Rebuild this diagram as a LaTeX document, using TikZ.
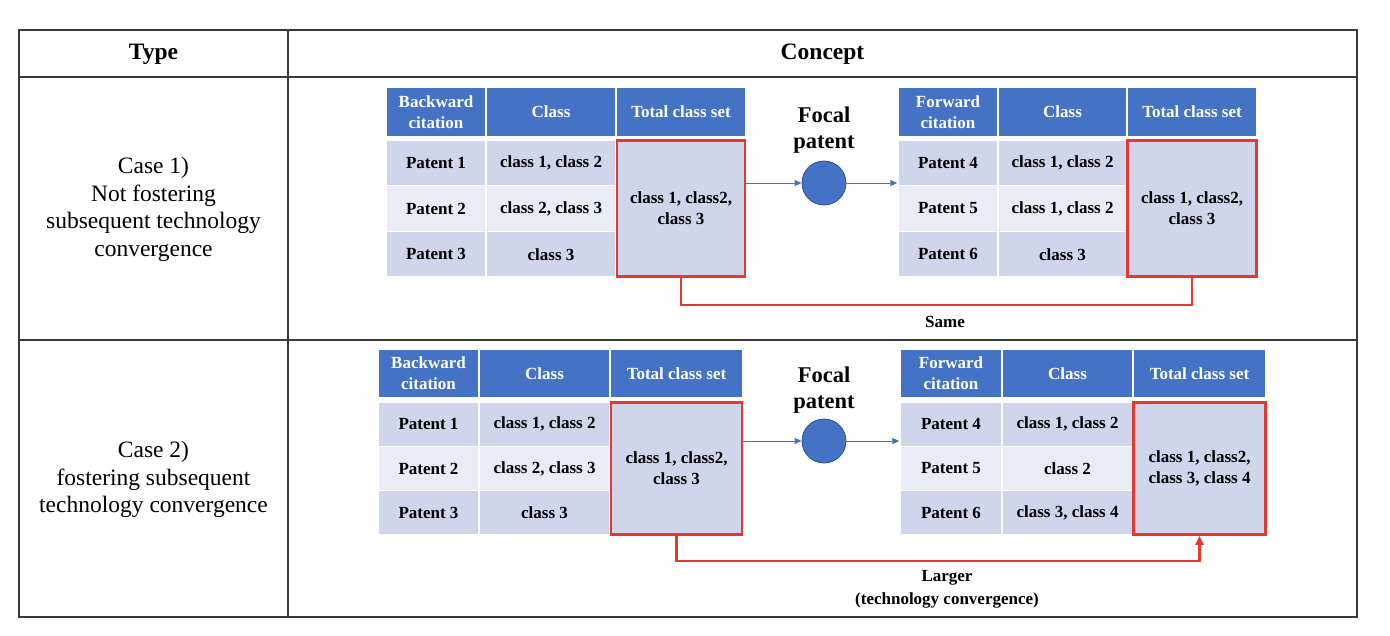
\documentclass[tikz,border=0pt]{standalone}
\usepackage{fontspec}
\setmainfont{Liberation Serif}
\usetikzlibrary{arrows.meta}
\definecolor{hblue}{HTML}{4472C4}
\definecolor{cdark}{HTML}{CFD5EA}
\definecolor{clight}{HTML}{E9EBF5}
\definecolor{redc}{RGB}{229,57,45}
\definecolor{circb}{HTML}{2F528F}
\definecolor{gridc}{HTML}{3A3A3A}
\tikzset{
  cellbase/.style={draw=white, line width=1.5pt, inner sep=0pt, align=center,
    font=\bfseries\fontsize{17}{21}\selectfont},
  hdr/.style={cellbase, fill=hblue, text=white},
  dcell/.style={cellbase, fill=cdark},
  lcell/.style={cellbase, fill=clight},
  tot/.style={cellbase, fill=cdark, draw=redc, line width=2.8pt},
  focal/.style={circle, fill=hblue, draw=circb, line width=0.8pt, minimum size=44pt, inner sep=0pt},
  bluarrow/.style={draw=hblue, line width=0.9pt, -{Triangle[length=7pt,width=6pt]}},
  redline/.style={draw=redc, line width=2.2pt},
  casetext/.style={align=center, font=\fontsize{23.5}{27.5}\selectfont},
  headtext/.style={font=\bfseries\fontsize{23.5}{27.5}\selectfont},
  lbl/.style={align=center, font=\bfseries\fontsize{17}{23}\selectfont},
  focaltext/.style={align=center, font=\bfseries\fontsize{22.5}{26}\selectfont},
  gridline/.style={draw=gridc, line width=1.5pt}
}
\begin{document}
\begin{tikzpicture}[x=1pt,y=-1pt]
\useasboundingbox (0,0) rectangle (1390,636);
% outer table
\draw[gridline] (19,30) rectangle (1357,617);
\draw[gridline] (19,77) -- (1357,77);
\draw[gridline] (19,340) -- (1357,340);
\draw[gridline] (288,30) -- (288,617);
\node[headtext] (htype) at (153.5,54) {Type};
\node[headtext] (hconcept) at (822.5,54) {Concept};
\node[casetext] (case1) at (153.5,209.5) {Case 1)\\Not fostering\\subsequent technology\\convergence};
\node[casetext] (case2) at (153.5,479.5) {Case 2)\\fostering subsequent\\technology convergence};

% ---------- Case 1 backward ----------
\node[hdr, minimum width=100pt, minimum height=50pt] (B1h1) at (436,112) {Backward\\citation};
\node[hdr, minimum width=130pt, minimum height=50pt] (B1h2) at (551,112) {Class};
\node[hdr, minimum width=130pt, minimum height=50pt] (B1h3) at (681,112) {Total class set};
\node[dcell, minimum width=100pt, minimum height=45.7pt] (B1r1a) at (436,162.8) {Patent 1};
\node[dcell, minimum width=130pt, minimum height=45.7pt] (B1r1b) at (551,162.8) {class 1, class 2};
\node[lcell, minimum width=100pt, minimum height=45.7pt] (B1r2a) at (436,208.5) {Patent 2};
\node[lcell, minimum width=130pt, minimum height=45.7pt] (B1r2b) at (551,208.5) {class 2, class 3};
\node[dcell, minimum width=100pt, minimum height=45.7pt] (B1r3a) at (436,254.2) {Patent 3};
\node[dcell, minimum width=130pt, minimum height=45.7pt] (B1r3b) at (551,254.2) {class 3};
\node[tot, minimum width=128pt, minimum height=136pt] (B1t) at (681,208.5) {class 1, class2,\\class 3};

% ---------- Case 1 focal ----------
\node[focaltext] (ft1) at (824,130) {Focal\\patent};
\node[focal] (foc1) at (824,183) {};

% ---------- Case 1 forward ----------
\node[hdr, minimum width=100pt, minimum height=50pt] (F1h1) at (948,112) {Forward\\citation};
\node[hdr, minimum width=129pt, minimum height=50pt] (F1h2) at (1062.5,112) {Class};
\node[hdr, minimum width=130pt, minimum height=50pt] (F1h3) at (1192,112) {Total class set};
\node[dcell, minimum width=100pt, minimum height=45.7pt] (F1r1a) at (948,162.8) {Patent 4};
\node[dcell, minimum width=129pt, minimum height=45.7pt] (F1r1b) at (1062.5,162.8) {class 1, class 2};
\node[lcell, minimum width=100pt, minimum height=45.7pt] (F1r2a) at (948,208.5) {Patent 5};
\node[lcell, minimum width=129pt, minimum height=45.7pt] (F1r2b) at (1062.5,208.5) {class 1, class 2};
\node[dcell, minimum width=100pt, minimum height=45.7pt] (F1r3a) at (948,254.2) {Patent 6};
\node[dcell, minimum width=129pt, minimum height=45.7pt] (F1r3b) at (1062.5,254.2) {class 3};
\node[tot, minimum width=129pt, minimum height=136pt] (F1t) at (1192,208.5) {class 1, class2,\\class 3};

\draw[bluarrow] (B1t.east |- foc1) -- (foc1.west);
\draw[bluarrow] (foc1.east) -- (foc1 -| F1r1a.west);
\draw[redline] (B1t.south) -- ++(0,27) -| (F1t.south);
\node[lbl] (same) at (945,322) {Same};

% ---------- Case 2 backward ----------
\node[hdr, minimum width=101pt, minimum height=49pt] (B2h1) at (428.5,373.5) {Backward\\citation};
\node[hdr, minimum width=131pt, minimum height=49pt] (B2h2) at (544.5,373.5) {Class};
\node[hdr, minimum width=132pt, minimum height=49pt] (B2h3) at (676.5,373.5) {Total class set};
\node[dcell, minimum width=101pt, minimum height=44.3pt] (B2r1a) at (428.5,424.2) {Patent 1};
\node[dcell, minimum width=131pt, minimum height=44.3pt] (B2r1b) at (544.5,424.2) {class 1, class 2};
\node[lcell, minimum width=101pt, minimum height=44.3pt] (B2r2a) at (428.5,468.5) {Patent 2};
\node[lcell, minimum width=131pt, minimum height=44.3pt] (B2r2b) at (544.5,468.5) {class 2, class 3};
\node[dcell, minimum width=101pt, minimum height=44.3pt] (B2r3a) at (428.5,512.8) {Patent 3};
\node[dcell, minimum width=131pt, minimum height=44.3pt] (B2r3b) at (544.5,512.8) {class 3};
\node[tot, minimum width=131pt, minimum height=132pt] (B2t) at (676.5,468.5) {class 1, class2,\\class 3};

% ---------- Case 2 focal ----------
\node[focaltext] (ft2) at (824,390) {Focal\\patent};
\node[focal] (foc2) at (824,441) {};

% ---------- Case 2 forward ----------
\node[hdr, minimum width=102pt, minimum height=49pt] (F2h1) at (951,373.5) {Forward\\citation};
\node[hdr, minimum width=131pt, minimum height=49pt] (F2h2) at (1067.5,373.5) {Class};
\node[hdr, minimum width=132pt, minimum height=49pt] (F2h3) at (1199.5,373.5) {Total class set};
\node[dcell, minimum width=102pt, minimum height=44.3pt] (F2r1a) at (951,424.2) {Patent 4};
\node[dcell, minimum width=131pt, minimum height=44.3pt] (F2r1b) at (1067.5,424.2) {class 1, class 2};
\node[lcell, minimum width=102pt, minimum height=44.3pt] (F2r2a) at (951,468.5) {Patent 5};
\node[lcell, minimum width=131pt, minimum height=44.3pt] (F2r2b) at (1067.5,468.5) {class 2};
\node[dcell, minimum width=102pt, minimum height=44.3pt] (F2r3a) at (951,512.8) {Patent 6};
\node[dcell, minimum width=131pt, minimum height=44.3pt] (F2r3b) at (1067.5,512.8) {class 3, class 4};
\node[tot, minimum width=132pt, minimum height=132pt] (F2t) at (1199.5,468.5) {class 1, class2,\\class 3, class 4};

\draw[bluarrow] (B2t.east |- foc2) -- (foc2.west);
\draw[bluarrow] (foc2.east) -- (foc2 -| F2r1a.west);
\draw[redline, -{Triangle[length=9pt,width=8pt]}] (B2t.south) -- ++(0,25) -| (F2t.south);
\node[lbl] (larger) at (947,589.5) {Larger\\(technology convergence)};
\end{tikzpicture}
\end{document}
